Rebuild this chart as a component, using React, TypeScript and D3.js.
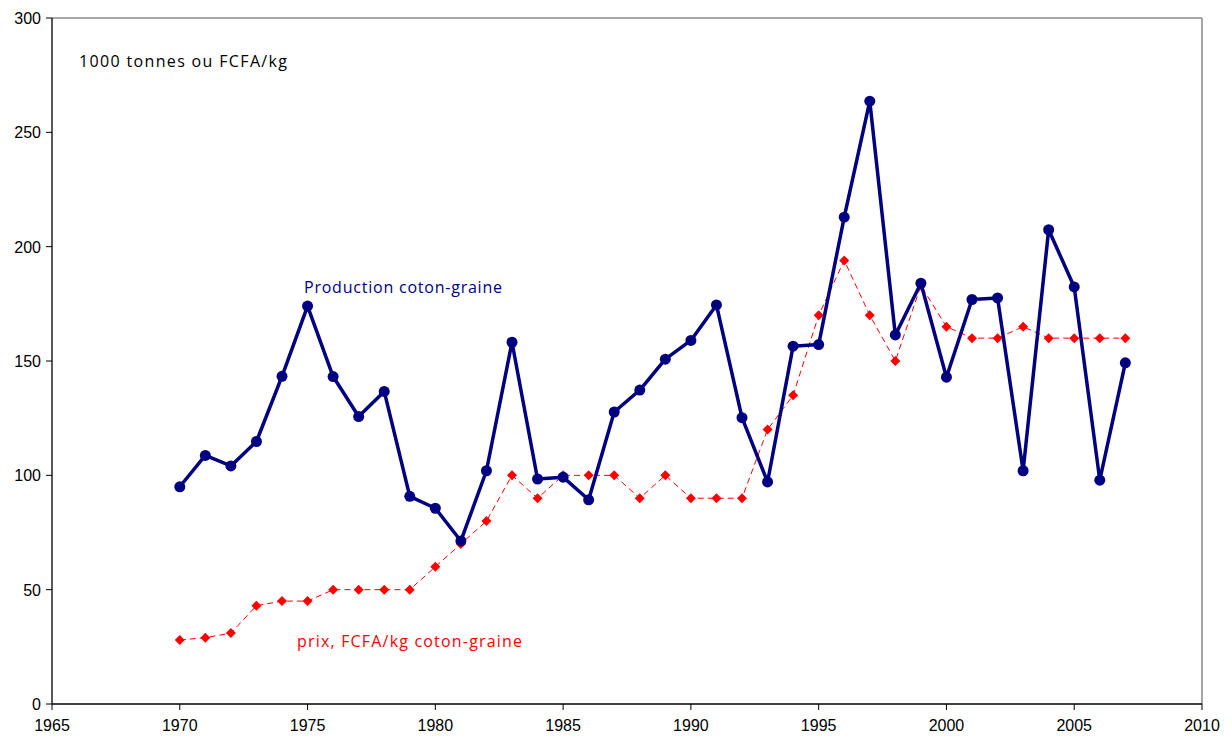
import React from "react";
import * as d3 from "d3";

const years = d3.range(1970, 2008);
const production = [95, 108.7, 104.1, 114.8, 143.3, 174, 143.2, 125.7, 136.7, 90.8, 85.6, 71.3, 102, 158.2, 98.4, 99.2, 89.3, 127.7, 137.3, 150.8, 159, 174.5, 125.2, 97.1, 156.5, 157.2, 212.9, 263.6, 161.4, 184, 142.9, 176.9, 177.6, 102, 207.4, 182.4, 97.9, 149.2];
const prix = [28, 29, 31, 43, 45, 45, 50, 50, 50, 50, 60, 70, 80, 100, 90, 100, 100, 100, 90, 100, 90, 90, 90, 120, 135, 170, 194, 170, 150, 183, 165, 160, 160, 165, 160, 160, 160, 160];
const xTicks = [1965, 1970, 1975, 1980, 1985, 1990, 1995, 2000, 2005, 2010];
const yTicks = [0, 50, 100, 150, 200, 250, 300];

export default function App() {
  const left = 52, right = 1202, top = 18, bottom = 704;
  const x = d3.scaleLinear().domain([1965, 2010]).range([left, right]);
  const y = d3.scaleLinear().domain([0, 300]).range([bottom, top]);
  const prodLine = d3.line<number>().x((_, i) => x(years[i])).y((d) => y(d))(production) || "";
  const prixLine = d3.line<number>().x((_, i) => x(years[i])).y((d) => y(d))(prix) || "";
  const labelFont = "'Open Sans', 'Noto Sans', sans-serif";
  return (
    <svg width={1232} height={736} style={{ position: "fixed", left: 0, top: 0, background: "#fff" }}>
      <rect x={0} y={0} width={1232} height={736} fill="#fff" />
      <line x1={left} x2={right} y1={top} y2={top} stroke="#888" strokeWidth={1.5} />
      <line x1={right} x2={right} y1={top} y2={bottom} stroke="#888" strokeWidth={1.5} />
      <line x1={left} x2={left} y1={top} y2={bottom} stroke="#000" strokeWidth={1.3} />
      <line x1={left} x2={right} y1={bottom} y2={bottom} stroke="#000" strokeWidth={1.3} />
      {yTicks.map((t) => (
        <g key={"y" + t}>
          <line x1={left - 6} x2={left} y1={y(t)} y2={y(t)} stroke="#000" strokeWidth={1} />
          <text x={left - 11} y={y(t) + 6} textAnchor="end" fontFamily="'Liberation Sans', Arial, sans-serif" fontSize={16} fill="#000">{t}</text>
        </g>
      ))}
      {xTicks.map((t) => (
        <g key={"x" + t}>
          <line x1={x(t)} x2={x(t)} y1={bottom} y2={bottom + 6} stroke="#000" strokeWidth={1} />
          <text x={x(t)} y={bottom + 27} textAnchor="middle" fontFamily="'Liberation Sans', Arial, sans-serif" fontSize={16} fill="#000">{t}</text>
        </g>
      ))}
      <path d={prixLine} fill="none" stroke="#ff0000" strokeWidth={1} strokeDasharray="6,4" />
      {prix.map((v, i) => {
        const cx = x(years[i]), cy = y(v), r = 5;
        return <path key={"p" + i} d={`M${cx},${cy - r}L${cx + r},${cy}L${cx},${cy + r}L${cx - r},${cy}Z`} fill="#ff0000" />;
      })}
      <path d={prodLine} fill="none" stroke="#000080" strokeWidth={3.5} strokeLinejoin="round" />
      {production.map((v, i) => (
        <circle key={"c" + i} cx={x(years[i])} cy={y(v)} r={5.5} fill="#000080" />
      ))}
      <text x={79} y={67} fontFamily={labelFont} fontSize={16} fill="#000" textLength={208} lengthAdjust="spacing">1000 tonnes ou FCFA/kg</text>
      <text x={304} y={293} fontFamily={labelFont} fontSize={16} fill="#000080" textLength={198} lengthAdjust="spacing">Production coton-graine</text>
      <text x={297} y={647} fontFamily={labelFont} fontSize={16} fill="#ff0000" textLength={225} lengthAdjust="spacing">prix, FCFA/kg coton-graine</text>
    </svg>
  );
}
